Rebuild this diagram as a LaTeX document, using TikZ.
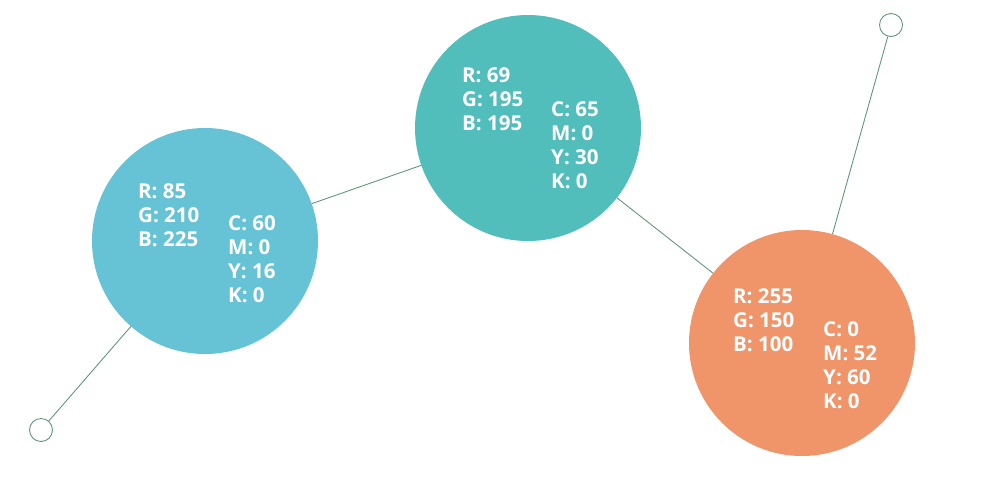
\documentclass[tikz,border=0pt]{standalone}
\usepackage{fontspec}
\setmainfont{Open Sans}
\definecolor{cA}{RGB}{102,195,214}
\definecolor{cB}{RGB}{82,190,188}
\definecolor{cC}{RGB}{240,148,106}
\definecolor{lnc}{RGB}{100,150,125}
\begin{document}
\begin{tikzpicture}[x=1pt,y=-1pt,
  big/.style={circle,minimum size=226pt,inner sep=0pt},
  dot/.style={circle,draw=lnc,line width=0.9pt,minimum size=23pt,inner sep=0pt,fill=white},
  link/.style={draw=lnc,line width=0.9pt},
  lbl/.style={anchor=base west,inner sep=0pt,text=white,font=\fontsize{20.5}{24}\selectfont\bfseries}]
\useasboundingbox (0,0) rectangle (992,482);
\node[big,fill=cA] (c1) at (205,241) {};
\node[big,fill=cB] (c2) at (528,128) {};
\node[big,fill=cC] (c3) at (802,343) {};
\node[dot] (d1) at (41,430) {};
\node[dot] (d2) at (891,25) {};
\draw[link] (d1) -- (c1);
\draw[link] (c1) -- (c2);
\draw[link] (c2) -- (c3);
\draw[link] (c3) -- (d2);
% circle 1
\node[lbl] (a1) at (138,198) {R: 85};
\node[lbl] (a2) at (138,222) {G: 210};
\node[lbl] (a3) at (138,246) {B: 225};
\node[lbl] (a4) at (228,230) {C: 60};
\node[lbl] (a5) at (228,254) {M: 0};
\node[lbl] (a6) at (228,278) {Y: 16};
\node[lbl] (a7) at (228,302) {K: 0};
% circle 2
\node[lbl] (b1) at (462,82) {R: 69};
\node[lbl] (b2) at (462,106) {G: 195};
\node[lbl] (b3) at (462,130) {B: 195};
\node[lbl] (b4) at (551,116) {C: 65};
\node[lbl] (b5) at (551,140) {M: 0};
\node[lbl] (b6) at (551,164) {Y: 30};
\node[lbl] (b7) at (551,188) {K: 0};
% circle 3
\node[lbl] (e1) at (733,303) {R: 255};
\node[lbl] (e2) at (733,327) {G: 150};
\node[lbl] (e3) at (733,351) {B: 100};
\node[lbl] (e4) at (823,336) {C: 0};
\node[lbl] (e5) at (823,360) {M: 52};
\node[lbl] (e6) at (823,384) {Y: 60};
\node[lbl] (e7) at (823,408) {K: 0};
\end{tikzpicture}
\end{document}
